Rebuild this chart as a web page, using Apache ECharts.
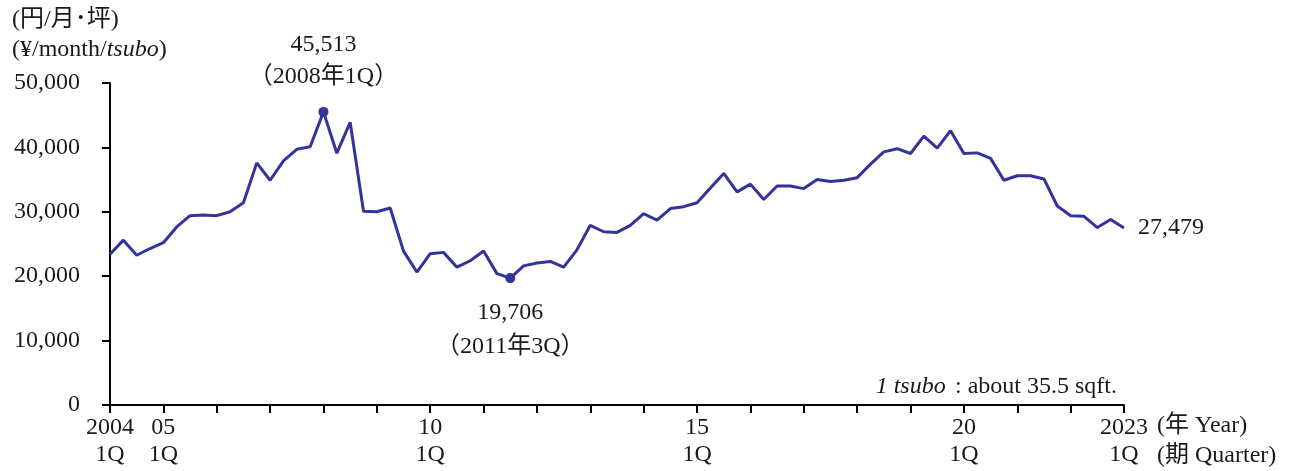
<!DOCTYPE html>
<html>
<head>
<meta charset="utf-8">
<script src="https://cdn.jsdelivr.net/npm/echarts@6/dist/echarts.min.js"></script>
<style>
  html, body { margin: 0; padding: 0; background: #fff; }
  #chart { width: 1305px; height: 471px; }
</style>
</head>
<body>
<div id="chart"></div>
<script>
// quarterly rent, 2004 1Q .. 2023 1Q (yen / month / tsubo)
const years = ['2004', '05', '06', '07', '08', '09', '10', '11', '12', '13', '14',
  '15', '16', '17', '18', '19', '20', '21', '22', '2023'];
const labelYears = ['2004', '05', '10', '15', '20', '2023'];

const rents = [
  23400, 25600, 23250, 24300, 25200, 27650, 29400, 29500, 29400, 30000, 31400, 37600,
  34900, 37900, 39700, 40100, 45513, 39100, 43900, 30100, 30000, 30600, 23900, 20650,
  23500, 23700, 21400, 22400, 23900, 20400, 19706, 21600, 22050, 22300, 21400, 24100,
  27900, 26900, 26800, 27900, 29700, 28700, 30500, 30800, 31400, 33700, 35950, 33100,
  34300, 31900, 34000, 34000, 33600, 35000, 34700, 34900, 35300, 37400, 39300, 39800,
  39050, 41750, 39900, 42600, 39050, 39150, 38300, 34900, 35600, 35600, 35100, 30900,
  29400, 29300, 27550, 28800, 27479
];

// category labels: year + quarter, one per point
const categories = rents.map((v, i) => years[Math.floor(i / 4)] + '-' + (i % 4 + 1) + 'Q');

const peakIdx = 16;   // 2008 1Q
const lowIdx = 30;    // 2011 3Q
const lastIdx = rents.length - 1;

const FONT = "'Liberation Serif', 'Noto Sans CJK JP', serif";
const LINE = '#333399';
const TXT = '#1a1a1a';
const FS = 24;

const fmt = v => v.toLocaleString('en-US');

const chart = echarts.init(document.getElementById('chart'));

chart.setOption({
  animation: false,
  backgroundColor: '#fff',
  textStyle: { fontFamily: FONT, color: TXT },
  grid: { left: 110, right: 181, top: 83, bottom: 66 },
  xAxis: {
    type: 'category',
    data: categories,
    boundaryGap: false,
    axisLine: { lineStyle: { color: '#000', width: 2 } },
    axisTick: {
      length: 8,
      lineStyle: { color: '#000', width: 2 },
      interval: (i) => i % 4 === 0
    },
    axisLabel: {
      interval: (i) => i % 4 === 0 && labelYears.includes(years[i / 4]),
      formatter: (v) => v.split('-')[0] + '\n' + v.split('-')[1],
      fontFamily: FONT,
      fontSize: FS,
      lineHeight: 27,
      color: TXT,
      margin: 9
    },
    splitLine: { show: false }
  },
  yAxis: {
    type: 'value',
    min: 0,
    max: 50000,
    interval: 10000,
    axisLine: { show: true, lineStyle: { color: '#000', width: 2 } },
    axisTick: { show: true, length: 8, lineStyle: { color: '#000', width: 2 } },
    axisLabel: {
      formatter: (v) => fmt(v),
      fontFamily: FONT,
      fontSize: FS,
      color: TXT,
      margin: 30
    },
    splitLine: { show: false }
  },
  series: [
    {
      type: 'line',
      data: rents,
      symbol: 'none',
      lineStyle: { color: LINE, width: 3 },
      z: 2
    },
    {
      type: 'scatter',
      symbol: 'circle',
      symbolSize: 10,
      itemStyle: { color: LINE, opacity: 1 },
      z: 3,
      data: [
        {
          value: [peakIdx, rents[peakIdx]],
          label: {
            show: true,
            position: 'top',
            distance: 14,
            formatter: fmt(rents[peakIdx]) + '\n（2008年1Q）',
            fontFamily: FONT,
            fontSize: FS,
            lineHeight: 32,
            color: TXT
          }
        },
        {
          value: [lowIdx, rents[lowIdx]],
          label: {
            show: true,
            position: 'bottom',
            distance: 13,
            formatter: fmt(rents[lowIdx]) + '\n（2011年3Q）',
            fontFamily: FONT,
            fontSize: FS,
            lineHeight: 34,
            color: TXT
          }
        }
      ]
    },
    {
      type: 'scatter',
      symbolSize: 0,
      silent: true,
      itemStyle: { opacity: 1 },
      data: [{
        value: [lastIdx, rents[lastIdx]],
        label: {
          show: true,
          position: 'right',
          distance: 14,
          formatter: fmt(rents[lastIdx]),
          fontFamily: FONT,
          fontSize: FS,
          color: TXT
        }
      }]
    }
  ],
  graphic: [
    {
      type: 'text',
      left: 12,
      top: 8,
      style: {
        text: '(円/月･坪)',
        font: FS + 'px ' + FONT,
        fill: TXT
      }
    },
    {
      type: 'text',
      left: 12,
      top: 38,
      style: {
        text: '{a|(¥/month/}{i|tsubo}{a|)}',
        rich: {
          a: { fontFamily: FONT, fontSize: FS, fill: TXT },
          i: { fontFamily: FONT, fontSize: FS, fontStyle: 'italic', fill: TXT }
        }
      }
    },
    {
      type: 'text',
      right: 188,
      top: 375,
      style: {
        text: '{i|1 tsubo} {a| : about 35.5 sqft.}',
        rich: {
          a: { fontFamily: FONT, fontSize: FS, fill: TXT },
          i: { fontFamily: FONT, fontSize: FS, fontStyle: 'italic', fill: TXT }
        }
      }
    },
    {
      type: 'text',
      left: 1157,
      top: 414,
      style: { text: '(年 Year)', font: FS + 'px ' + FONT, fill: TXT }
    },
    {
      type: 'text',
      left: 1157,
      top: 444,
      style: { text: '(期 Quarter)', font: FS + 'px ' + FONT, fill: TXT }
    }
  ]
});
</script>
</body>
</html>
